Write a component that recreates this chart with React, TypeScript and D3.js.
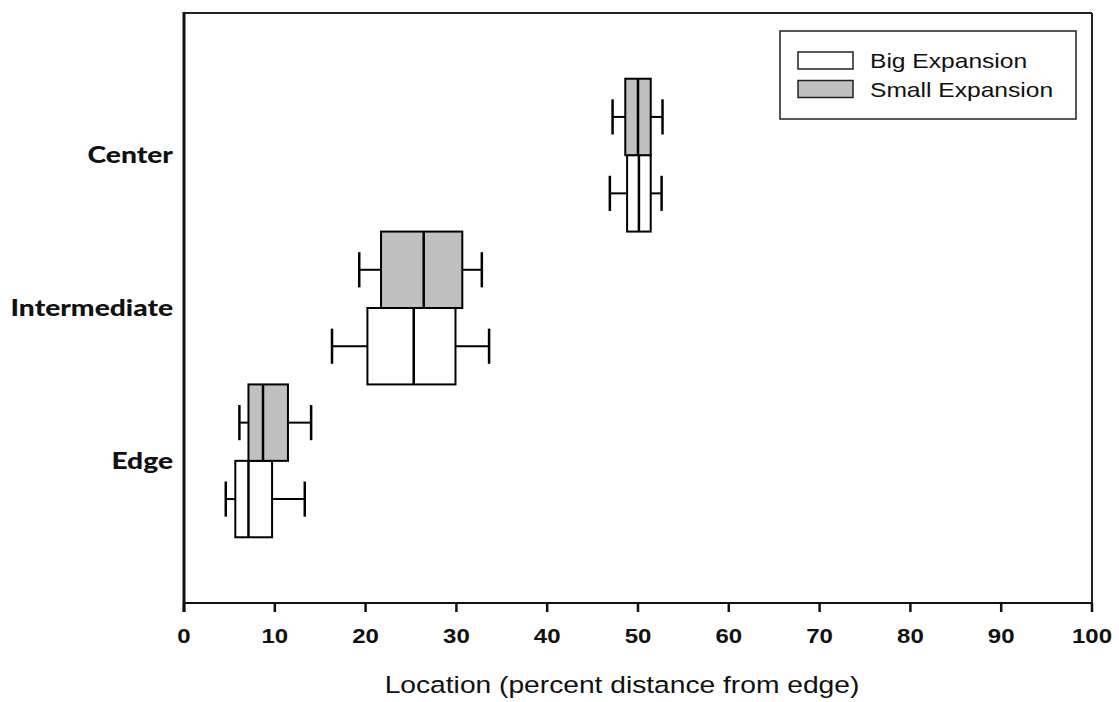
import React, { useEffect, useRef } from "react";
import * as d3 from "d3";

// categories bottom to top
const categories = ["Edge", "Intermediate", "Center"];

// Big Expansion: whisker low, Q1, median, Q3, whisker high
const bigLow = [4.6, 16.3, 46.9];
const bigQ1 = [5.65, 20.2, 48.8];
const bigMedian = [7.1, 25.3, 50.1];
const bigQ3 = [9.7, 29.9, 51.4];
const bigHigh = [13.3, 33.6, 52.6];

// Small Expansion
const smallLow = [6.1, 19.3, 47.2];
const smallQ1 = [7.1, 21.7, 48.6];
const smallMedian = [8.7, 26.4, 50.0];
const smallQ3 = [11.45, 30.65, 51.4];
const smallHigh = [14.0, 32.8, 52.7];

const xTicks = [0, 10, 20, 30, 40, 50, 60, 70, 80, 90, 100];
const seriesNames = ["Big Expansion", "Small Expansion"];
const seriesFill = ["#ffffff", "#c0c0c0"];

const W = 1119;
const H = 702;
const margin = { top: 13, right: 27, bottom: 99, left: 184 };
const STRETCH = 1.2;

export default function App() {
  const ref = useRef<SVGSVGElement>(null);

  useEffect(() => {
    const svg = d3.select(ref.current);
    svg.selectAll("*").remove();

    const x0 = margin.left;
    const x1 = W - margin.right;
    const y0 = H - margin.bottom;
    const y1 = margin.top;

    const x = d3.scaleLinear().domain([0, 100]).range([x0, x1]);
    const y = d3.scalePoint().domain(categories).range([y0, y1]).padding(0.93);
    const boxH = y.step() * 0.5;

    // frame (top + right)
    svg.append("line").attr("x1", x0).attr("x2", x1).attr("y1", y1).attr("y2", y1)
      .attr("stroke", "#222").attr("stroke-width", 2);
    svg.append("line").attr("x1", x1).attr("x2", x1).attr("y1", y1).attr("y2", y0)
      .attr("stroke", "#222").attr("stroke-width", 2);

    // x axis
    const gx = svg.append("g").attr("transform", `translate(0,${y0})`);
    gx.append("line").attr("x1", x0).attr("x2", x1).attr("stroke", "#111").attr("stroke-width", 2);
    const tick = gx.selectAll("g.tick").data(xTicks).join("g")
      .attr("class", "tick")
      .attr("transform", (d) => `translate(${x(d)},0)`);
    tick.append("line").attr("y2", 9).attr("stroke", "#111").attr("stroke-width", 2.5);
    tick.append("text")
      .attr("transform", `translate(0,40) scale(${STRETCH},1)`)
      .attr("text-anchor", "middle")
      .attr("font-family", "Liberation Sans, Arial, sans-serif")
      .attr("font-weight", "bold")
      .attr("font-size", 20)
      .attr("fill", "#111")
      .text((d) => d);

    svg.append("text")
      .attr("transform", `translate(622,693) scale(${STRETCH},1)`)
      .attr("text-anchor", "middle")
      .attr("font-family", "Liberation Sans, Arial, sans-serif")
      .attr("font-size", 23.5)
      .attr("fill", "#111")
      .text("Location (percent distance from edge)");

    // y axis
    svg.append("line").attr("x1", x0).attr("x2", x0).attr("y1", y1 - 1).attr("y2", y0 + 9)
      .attr("stroke", "#111").attr("stroke-width", 3);
    svg.append("g").selectAll("text").data(categories).join("text")
      .attr("transform", (d) => `translate(173,${(y(d) as number) + 8}) scale(${STRETCH},1)`)
      .attr("text-anchor", "end")
      .attr("font-family", "Lato, sans-serif")
      .attr("font-weight", 900)
      .attr("font-size", 23.5)
      .attr("fill", "#111")
      .text((d) => d);

    // boxes
    const series = [
      { low: bigLow, q1: bigQ1, med: bigMedian, q3: bigQ3, high: bigHigh, fill: seriesFill[0], off: 0 },
      { low: smallLow, q1: smallQ1, med: smallMedian, q3: smallQ3, high: smallHigh, fill: seriesFill[1], off: -1 },
    ];
    series.forEach((s) => {
      const g = svg.append("g");
      categories.forEach((c, i) => {
        const top = (y(c) as number) + s.off * boxH;
        const mid = top + boxH / 2;
        const capH = boxH * 0.46;
        const bx = g.append("g").attr("stroke", "#000").attr("stroke-width", 2);
        bx.append("line").attr("x1", x(s.low[i])).attr("x2", x(s.q1[i])).attr("y1", mid).attr("y2", mid);
        bx.append("line").attr("x1", x(s.q3[i])).attr("x2", x(s.high[i])).attr("y1", mid).attr("y2", mid);
        bx.append("line").attr("x1", x(s.low[i])).attr("x2", x(s.low[i]))
          .attr("y1", mid - capH / 2).attr("y2", mid + capH / 2).attr("stroke-width", 2.5);
        bx.append("line").attr("x1", x(s.high[i])).attr("x2", x(s.high[i]))
          .attr("y1", mid - capH / 2).attr("y2", mid + capH / 2).attr("stroke-width", 2.5);
        bx.append("rect")
          .attr("x", x(s.q1[i])).attr("y", top)
          .attr("width", x(s.q3[i]) - x(s.q1[i])).attr("height", boxH)
          .attr("fill", s.fill);
        bx.append("line").attr("x1", x(s.med[i])).attr("x2", x(s.med[i]))
          .attr("y1", top).attr("y2", top + boxH).attr("stroke-width", 2.5);
      });
    });

    // legend
    const lg = svg.append("g").attr("transform", "translate(780,31)");
    lg.append("rect").attr("width", 296).attr("height", 88)
      .attr("fill", "#fff").attr("stroke", "#222").attr("stroke-width", 1.5);
    const item = lg.selectAll("g.item").data(seriesNames).join("g")
      .attr("class", "item")
      .attr("transform", (_, i) => `translate(18,${21 + i * 28.5})`);
    item.append("rect").attr("width", 55).attr("height", 17)
      .attr("fill", (_, i) => seriesFill[i]).attr("stroke", "#222").attr("stroke-width", 1.5);
    item.append("text")
      .attr("transform", `translate(72,16) scale(${STRETCH},1)`)
      .attr("font-family", "Liberation Sans, Arial, sans-serif")
      .attr("font-size", 20.5)
      .attr("fill", "#111")
      .text((d) => d);
  }, []);

  return (
    <svg
      ref={ref}
      width={W}
      height={H}
      style={{ position: "absolute", left: 0, top: 0, background: "#fff" }}
    />
  );
}
